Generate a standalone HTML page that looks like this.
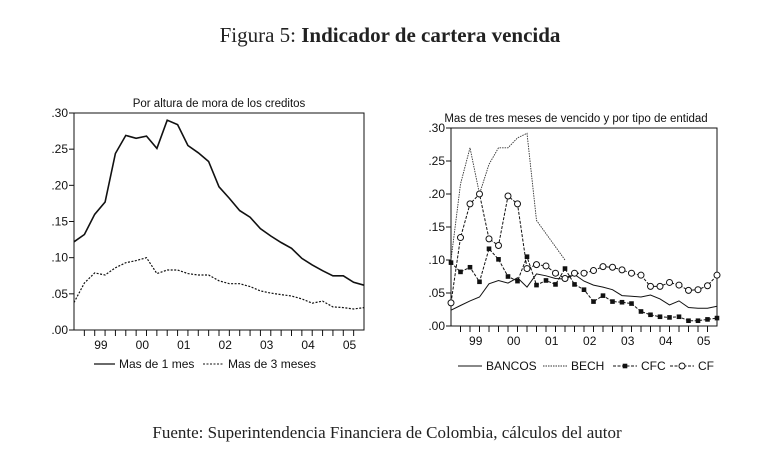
<!DOCTYPE html>
<html><head><meta charset="utf-8"><style>
body{margin:0;background:#fff;}
svg{display:block}
</style></head><body>
<svg id="s" width="769" height="471" xmlns="http://www.w3.org/2000/svg" font-family="Liberation Sans, sans-serif">
<rect width="769" height="471" fill="#fff"/>
<text x="390" y="42" text-anchor="middle" font-family="Liberation Serif, serif" font-size="21" fill="#222">Figura 5: <tspan font-weight="bold">Indicador de cartera vencida</tspan></text>
<text x="387" y="438" text-anchor="middle" font-family="Liberation Serif, serif" font-size="17" fill="#222">Fuente: Superintendencia Financiera de Colombia, cálculos del autor</text>
<g id="g"></g>
</svg>
<script>
var g=document.getElementById('g');var h='';
function chart(L,R,T,B,title,tx){
 var sc=(B-T)/0.3;
 h+='<text x="'+tx+'" y="'+(T-6)+'" text-anchor="middle" font-size="11.5" fill="#111">'+title+'</text>';
 h+='<rect x="'+L+'" y="'+T+'" width="'+(R-L)+'" height="'+(B-T)+'" fill="none" stroke="#111" stroke-width="1"/>';
 for(var k=0;k<=6;k++){var v=k*0.05;var y=B-v*sc;
  h+='<line x1="'+(L-5)+'" y1="'+y+'" x2="'+L+'" y2="'+y+'" stroke="#111"/>';
  h+='<text x="'+(L-6)+'" y="'+(y+4)+'" text-anchor="end" font-size="12" fill="#111">'+(k==0?'.00':(k<2?'.0'+(k*5):'.'+(k*5)))+'</text>';}
 var dx=(R-L)/28;
 for(var i=1;i<28;i++){var x=L+i*dx;h+='<line x1="'+x+'" y1="'+B+'" x2="'+x+'" y2="'+(B+6)+'" stroke="#111"/>';}
 var yrs=['99','00','01','02','03','04','05'];
 for(var j=0;j<7;j++){var x=L+(2.6+4*j)*dx;h+='<text x="'+x+'" y="'+(B+19)+'" text-anchor="middle" font-size="12" fill="#111">'+yrs[j]+'</text>';}
 return {pts:function(d,off){var a=[];for(var i=0;i<d.length;i++)a.push([L+(i+(off||0))*dx,B-d[i]*sc]);return a;}};
}
function pl(a,st){return '<polyline fill="none" points="'+a.map(function(p){return p[0].toFixed(1)+','+p[1].toFixed(1)}).join(' ')+'" '+st+'/>';}
var c1=chart(74,364,113,330,'Por altura de mora de los creditos',219);
var s1=[.122,.132,.160,.177,.244,.269,.265,.268,.251,.290,.284,.255,.245,.233,.198,.182,.165,.156,.140,.130,.121,.113,.099,.090,.082,.075,.075,.066,.062];
var d1=[.038,.065,.079,.076,.086,.093,.096,.100,.078,.083,.083,.078,.076,.076,.068,.064,.064,.060,.054,.051,.049,.047,.043,.037,.040,.032,.031,.029,.031];
h+=pl(c1.pts(s1),'stroke="#111" stroke-width="1.6"');
h+=pl(c1.pts(d1),'stroke="#111" stroke-width="1.2" stroke-dasharray="2,1.5"');
h+='<line x1="94" y1="364" x2="115" y2="364" stroke="#111" stroke-width="1.3"/><text x="119" y="368" font-size="12" fill="#111">Mas de 1 mes</text>';
h+='<line x1="203" y1="364" x2="224" y2="364" stroke="#111" stroke-dasharray="2,1.5"/><text x="228" y="368" font-size="12" fill="#111">Mas de 3 meses</text>';
var c2=chart(451,717,128,326,'Mas de tres meses de vencido y por tipo de entidad',576);
var b=[.024,.031,.038,.044,.064,.069,.065,.073,.059,.079,.076,.072,.071,.078,.068,.062,.059,.055,.046,.045,.044,.047,.041,.032,.038,.028,.027,.027,.030];
var be=[.10,.215,.27,.20,.245,.27,.27,.285,.292,.16,.14,.12,.10];
var cfc=[.096,.082,.089,.067,.117,.101,.075,.068,.105,.062,.069,.063,.087,.063,.055,.037,.046,.037,.036,.034,.022,.017,.014,.013,.014,.008,.008,.010,.012];
var cf=[.035,.134,.185,.200,.132,.122,.197,.185,.087,.093,.091,.080,.072,.080,.080,.084,.090,.089,.085,.080,.077,.060,.060,.066,.062,.054,.055,.061,.077];
h+=pl(c2.pts(b),'stroke="#111" stroke-width="1"');
h+=pl(c2.pts(be),'stroke="#333" stroke-width="0.9" stroke-dasharray="1.5,1"');
var p=c2.pts(cfc);h+=pl(p,'stroke="#111" stroke-width="1" stroke-dasharray="3,1.5"');
p.forEach(function(q){h+='<rect x="'+(q[0]-2.3)+'" y="'+(q[1]-2.3)+'" width="4.6" height="4.6" fill="#111"/>';});
p=c2.pts(cf);h+=pl(p,'stroke="#111" stroke-width="1" stroke-dasharray="3,1.5"');
p.forEach(function(q){h+='<circle cx="'+q[0]+'" cy="'+q[1]+'" r="3" fill="#fff" stroke="#111" stroke-width="1"/>';});
var ly=366;
h+='<line x1="458" y1="'+ly+'" x2="482" y2="'+ly+'" stroke="#111"/><text x="486" y="'+(ly+4)+'" font-size="12" fill="#111">BANCOS</text>';
h+='<line x1="543" y1="'+ly+'" x2="567" y2="'+ly+'" stroke="#333" stroke-dasharray="1.5,1"/><text x="571" y="'+(ly+4)+'" font-size="12" fill="#111">BECH</text>';
h+='<line x1="613" y1="'+ly+'" x2="637" y2="'+ly+'" stroke="#111" stroke-dasharray="3,1.5"/><rect x="622.7" y="'+(ly-2.3)+'" width="4.6" height="4.6" fill="#111"/><text x="641" y="'+(ly+4)+'" font-size="12" fill="#111">CFC</text>';
h+='<line x1="670" y1="'+ly+'" x2="694" y2="'+ly+'" stroke="#111" stroke-dasharray="3,1.5"/><circle cx="682" cy="'+ly+'" r="3" fill="#fff" stroke="#111"/><text x="698" y="'+(ly+4)+'" font-size="12" fill="#111">CF</text>';
g.innerHTML=h;
</script>
</body></html>
